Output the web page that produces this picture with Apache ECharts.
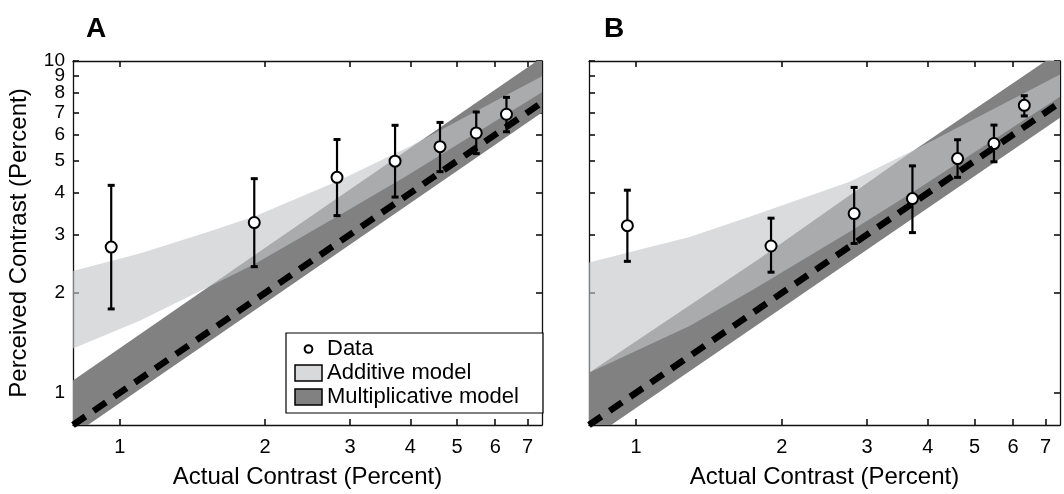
<!DOCTYPE html>
<html>
<head>
<meta charset="utf-8">
<script src="https://cdn.jsdelivr.net/npm/echarts@6/dist/echarts.min.js"></script>
<style>
  html, body { margin: 0; padding: 0; background: #fff; }
  #main { width: 1064px; height: 494px; }
</style>
</head>
<body>
<div id="main"></div>
<script>
// actual contrast of the test stimuli (percent)
const contrast = [0.96, 1.9, 2.82, 3.72, 4.61, 5.48, 6.33];

// panel A data
const meanA = [2.75, 3.26, 4.46, 4.99, 5.52, 6.07, 6.91];
const lowA  = [1.79, 2.40, 3.42, 3.89, 4.64, 5.26, 6.12];
const highA = [4.22, 4.42, 5.80, 6.40, 6.53, 7.02, 7.77];

// panel B data
const meanB = [3.19, 2.77, 3.47, 3.85, 5.08, 5.64, 7.35];
const lowB  = [2.49, 2.31, 2.82, 3.04, 4.46, 4.97, 6.83];
const highB = [4.08, 3.36, 4.16, 4.83, 5.79, 6.41, 7.86];

// model bands, panel A
const addAx  = [0.8, 1.1, 1.5, 1.9, 2.84, 3.96, 7.5];
const addAlo = [1.36, 1.65, 2.06, 2.44, 3.42, 4.53, 8.05];
const addAhi = [2.33, 2.63, 3.03, 3.40, 4.36, 5.50, 9.0];
const mulAx  = [0.8, 1.9, 7.5];
const mulAlo = [0.745, 1.77, 7.0];
const mulAhi = [1.09, 2.6, 10.25];

// model bands, panel B
const addBx  = [0.8, 1.29, 1.74, 2.76, 3.85, 7.5];
const addBlo = [1.15, 1.59, 2.04, 3.06, 4.15, 7.8];
const addBhi = [2.47, 2.95, 3.42, 4.33, 5.5, 9.1];
const mulBx  = [0.8, 1.8, 3.62, 7.5];
const mulBlo = [0.72, 1.62, 3.26, 6.75];
const mulBhi = [1.15, 2.54, 5.2, 10.7];

// unity line
const unity = [0.8, 7.5];

const ticksX = [1, 2, 3, 4, 5, 6, 7];
const ticksY = [1, 2, 3, 4, 5, 6, 7, 8, 9, 10];
// y labels are split over two axes, the top ones sit too close for one axis to keep them all
const labelsY = [1, 2, 3, 4, 5, 6, 7, 9];
const labelsYAlt = [8, 10];
const xRange = [0.8, 7.5];
const yRange = [0.8, 10];

const L = v => Math.log10(v);
const FONT = '"Liberation Sans", Arial, Helvetica, sans-serif';
const LIGHT = 'rgba(196,197,199,0.62)';
const DARK = '#818181';
const fmt = v => String(Math.round(Math.pow(10, v)));

function xAxes(g) {
  const base = {
    type: 'value', gridIndex: g, min: L(xRange[0]), max: L(xRange[1]),
    splitLine: { show: false },
    axisLine: { show: true, onZero: false, lineStyle: { color: '#111', width: 1.3 } },
    axisTick: { inside: true, length: 6, customValues: ticksX.map(L), lineStyle: { color: '#111', width: 1.6 } }
  };
  return [
    Object.assign({}, base, {
      position: 'bottom',
      axisLabel: {
        customValues: ticksX.map(L), margin: 12, fontSize: 20, color: '#000', fontFamily: FONT,
        hideOverlap: false, formatter: fmt
      },
      name: 'Actual Contrast (Percent)', nameLocation: 'middle', nameGap: 40,
      nameTextStyle: { fontSize: 24, color: '#000', fontFamily: FONT }
    }),
    Object.assign({}, base, { position: 'top', axisLabel: { show: false } })
  ];
}

function yBase(g) {
  return {
    type: 'value', gridIndex: g, min: L(yRange[0]), max: L(yRange[1]),
    splitLine: { show: false },
    axisLine: { show: true, onZero: false, lineStyle: { color: '#111', width: 1.3 } },
    axisTick: { inside: true, length: 6, customValues: ticksY.map(L), lineStyle: { color: '#111', width: 1.6 } }
  };
}

function yLabel(values) {
  return {
    customValues: values.map(L), margin: 8, fontSize: 19, color: '#000', fontFamily: FONT,
    hideOverlap: false, formatter: fmt
  };
}

function yAxes(g, labels) {
  const left = Object.assign(yBase(g), {
    position: 'left',
    axisLabel: labels ? yLabel(labelsY) : { show: false }
  });
  if (labels) {
    left.name = 'Perceived Contrast (Percent)';
    left.nameLocation = 'middle';
    left.nameGap = 42;
    left.nameTextStyle = { fontSize: 24, color: '#000', fontFamily: FONT };
  }
  return [left, Object.assign(yBase(g), { position: 'right', axisLabel: { show: false } })];
}

function altLabelAxis(g) {
  return Object.assign(yBase(g), {
    position: 'left',
    axisLine: { show: false },
    axisTick: { show: false },
    axisLabel: yLabel(labelsYAlt)
  });
}

function band(name, g, xs, lo, hi, color) {
  const pts = xs.map((x, i) => [L(x), L(lo[i]), L(hi[i])]);
  return {
    type: 'custom', name: name, xAxisIndex: g * 2, yAxisIndex: g * 2,
    clip: true, silent: true, data: pts,
    renderItem: (params, api) => {
      if (params.dataIndex !== 0) return null;
      const top = pts.map(p => api.coord([p[0], p[2]]));
      const bot = pts.map(p => api.coord([p[0], p[1]])).reverse();
      return { type: 'polygon', shape: { points: top.concat(bot) }, style: { fill: color } };
    }
  };
}

function unityLine(g) {
  return {
    type: 'line', xAxisIndex: g * 2, yAxisIndex: g * 2, silent: true, clip: true,
    showSymbol: false, data: unity.map(v => [L(v), L(v)]),
    lineStyle: { color: '#000', width: 6.5, type: [15, 10], cap: 'butt' }
  };
}

function errorBars(g, lo, hi) {
  return {
    type: 'custom', xAxisIndex: g * 2, yAxisIndex: g * 2, silent: true,
    data: contrast.map((x, i) => [L(x), L(lo[i]), L(hi[i])]),
    renderItem: (params, api) => {
      const x = api.value(0);
      const a = api.coord([x, api.value(1)]);
      const b = api.coord([x, api.value(2)]);
      const w = 3.5;
      const st = { stroke: '#000', lineWidth: 2.2 };
      return {
        type: 'group', children: [
          { type: 'line', shape: { x1: a[0], y1: a[1], x2: b[0], y2: b[1] }, style: st },
          { type: 'line', shape: { x1: a[0] - w, y1: a[1], x2: a[0] + w, y2: a[1] }, style: { stroke: '#000', lineWidth: 3 } },
          { type: 'line', shape: { x1: b[0] - w, y1: b[1], x2: b[0] + w, y2: b[1] }, style: { stroke: '#000', lineWidth: 3 } }
        ]
      };
    }
  };
}

function points(g, mean) {
  return {
    type: 'scatter', name: 'Data', xAxisIndex: g * 2, yAxisIndex: g * 2,
    data: contrast.map((x, i) => [L(x), L(mean[i])]),
    symbol: 'circle', symbolSize: 11,
    itemStyle: { color: '#fff', borderColor: '#000', borderWidth: 2, opacity: 1 }
  };
}

const chart = echarts.init(document.getElementById('main'), null, { renderer: 'canvas' });
chart.setOption({
  animation: false,
  backgroundColor: '#fff',
  textStyle: { fontFamily: FONT },
  title: [
    { text: 'A', left: 81, top: 10, textStyle: { fontSize: 28, fontWeight: 'bold', color: '#000', fontFamily: FONT } },
    { text: 'B', left: 599, top: 10, textStyle: { fontSize: 28, fontWeight: 'bold', color: '#000', fontFamily: FONT } }
  ],
  grid: [
    { left: 73, top: 61, width: 469, height: 371 },
    { left: 589, top: 61, width: 471, height: 371 }
  ],
  xAxis: xAxes(0).concat(xAxes(1)),
  yAxis: yAxes(0, true).concat(yAxes(1, false), [altLabelAxis(0)]),
  legend: {
    left: 286, top: 333, orient: 'vertical',
    backgroundColor: '#fff', borderColor: '#000', borderWidth: 1.2,
    padding: [5, 24, 5, 8], itemGap: 2, itemWidth: 27, itemHeight: 16,
    selectedMode: false,
    textStyle: { fontSize: 22, color: '#000', fontFamily: FONT, lineHeight: 22 },
    data: [
      { name: 'Data', icon: 'path://M0,0M28,0M0,16M28,16M10,8a4,4,0,1,0,8,0a4,4,0,1,0,-8,0z',
        itemStyle: { color: '#fff', borderColor: '#000', borderWidth: 2 } },
      { name: 'Additive model', icon: 'rect',
        itemStyle: { color: '#d8d9da', borderColor: '#000', borderWidth: 1.5 } },
      { name: 'Multiplicative model', icon: 'rect',
        itemStyle: { color: DARK, borderColor: '#000', borderWidth: 1.5 } }
    ]
  },
  series: [
    band('Multiplicative model', 0, mulAx, mulAlo, mulAhi, DARK),
    band('Additive model', 0, addAx, addAlo, addAhi, LIGHT),
    unityLine(0),
    errorBars(0, lowA, highA),
    points(0, meanA),
    band('Multiplicative model', 1, mulBx, mulBlo, mulBhi, DARK),
    band('Additive model', 1, addBx, addBlo, addBhi, LIGHT),
    unityLine(1),
    errorBars(1, lowB, highB),
    points(1, meanB)
  ]
});
</script>
</body>
</html>
